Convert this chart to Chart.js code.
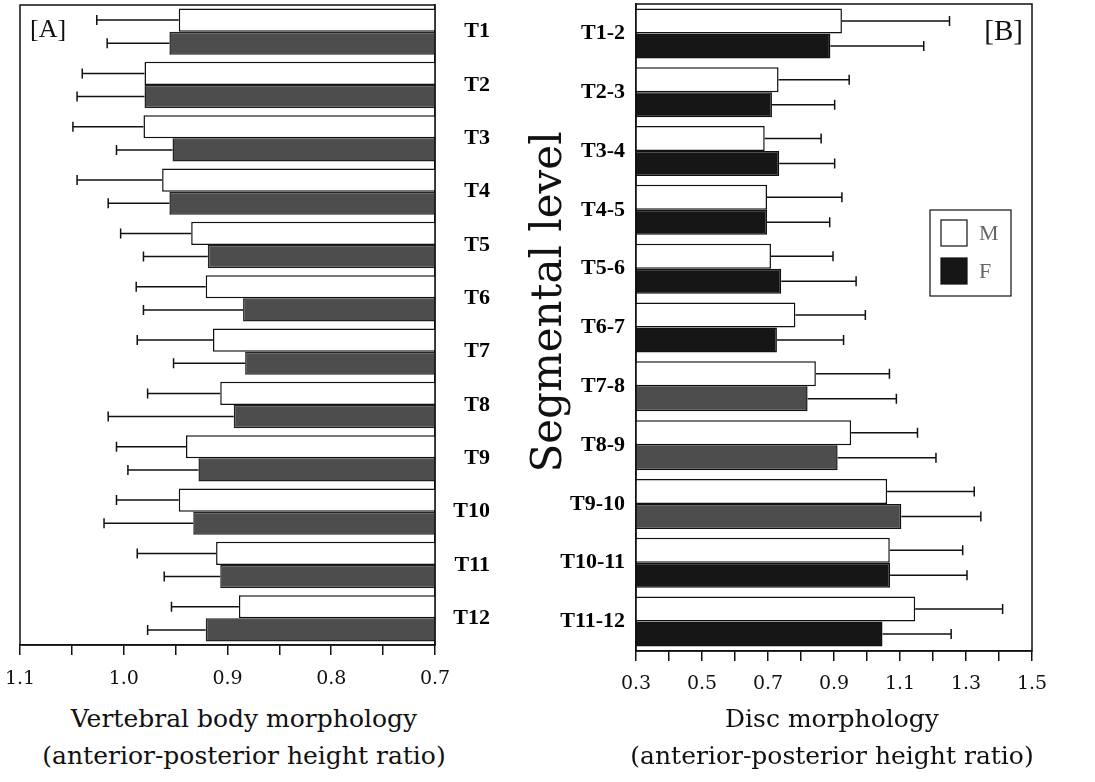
<!DOCTYPE html>
<html>
<head>
<meta charset="utf-8">
<script src="https://cdn.jsdelivr.net/npm/chart.js@4.4.1/dist/chart.umd.min.js"></script>
<style>
  html, body { margin: 0; padding: 0; background: #fff; }
  #wrap { position: relative; width: 1095px; height: 782px; overflow: hidden; background: #fff; }
  canvas { position: absolute; top: 0; }
  #chartA { left: 0; }
  #chartB { left: 530px; }
  .xtitle {
    position: absolute; width: 500px; text-align: center;
    font-family: 'DejaVu Serif', serif; font-size: 25px; line-height: 37px; color: #111;
  }
  #ytitle {
    position: absolute; width: 400px; height: 50px; left: 347px; top: 277px;
    text-align: center; line-height: 50px;
    font-family: 'DejaVu Serif', serif; font-size: 42px; color: #111;
    transform: rotate(-90deg);
  }
</style>
</head>
<body>
<div id="wrap">
  <canvas id="chartA" width="540" height="700"></canvas>
  <canvas id="chartB" width="565" height="700"></canvas>
  <div class="xtitle" style="left:-6px; top:700px;">Vertebral body morphology<br>(anterior-posterior height ratio)</div>
  <div class="xtitle" style="left:582px; top:700px;">Disc morphology<br>(anterior-posterior height ratio)</div>
  <div id="ytitle">Segmental level</div>
</div>
<script>
// panel A: vertebral body ratio, mean and SD per level
const vertebraLevels = ['T1', 'T2', 'T3', 'T4', 'T5', 'T6', 'T7', 'T8', 'T9', 'T10', 'T11', 'T12'];
const vbMale = [0.947, 0.980, 0.981, 0.963, 0.935, 0.921, 0.914, 0.907, 0.940, 0.947, 0.911, 0.889];
const vbMaleSD = [0.079, 0.060, 0.068, 0.082, 0.068, 0.067, 0.073, 0.070, 0.067, 0.060, 0.076, 0.065];
const vbFemale = [0.956, 0.980, 0.953, 0.956, 0.919, 0.885, 0.883, 0.894, 0.928, 0.933, 0.907, 0.921];
const vbFemaleSD = [0.060, 0.065, 0.054, 0.059, 0.062, 0.096, 0.069, 0.121, 0.068, 0.086, 0.054, 0.056];
const vbTickValues = [0.7, 0.75, 0.8, 0.85, 0.9, 0.95, 1.0, 1.05, 1.1];
const vbTickLabels = ['0.7', '', '0.8', '', '0.9', '', '1.0', '', '1.1'];

// panel B: disc ratio
const discLevels = ['T1-2', 'T2-3', 'T3-4', 'T4-5', 'T5-6', 'T6-7', 'T7-8', 'T8-9', 'T9-10', 'T10-11', 'T11-12'];
const discMale = [0.924, 0.732, 0.690, 0.697, 0.709, 0.783, 0.845, 0.952, 1.061, 1.069, 1.146];
const discMaleSD = [0.326, 0.214, 0.171, 0.227, 0.188, 0.212, 0.223, 0.201, 0.264, 0.221, 0.265];
const discFemale = [0.889, 0.712, 0.734, 0.697, 0.740, 0.727, 0.820, 0.911, 1.104, 1.070, 1.047];
const discFemaleSD = [0.283, 0.190, 0.168, 0.190, 0.227, 0.202, 0.269, 0.298, 0.241, 0.233, 0.208];
const discTickValues = [0.3, 0.4, 0.5, 0.6, 0.7, 0.8, 0.9, 1.0, 1.1, 1.2, 1.3, 1.4, 1.5];
const discTickLabels = ['0.3', '', '0.5', '', '0.7', '', '0.9', '', '1.1', '', '1.3', '', '1.5'];

const INK = '#111';
const GRAY = '#4d4d4d';
const BLACK = '#161616';
const grayDiscBars = [6, 7, 8]; // T7-8 .. T9-10 printed gray

// SD whiskers, one side only (away from the base)
const errorBarPlugin = {
  id: 'errorBars',
  afterDatasetsDraw(chart) {
    const ctx = chart.ctx;
    const xs = chart.scales.x;
    ctx.save();
    ctx.strokeStyle = INK;
    ctx.lineWidth = 1.5;
    chart.data.datasets.forEach((ds, i) => {
      const meta = chart.getDatasetMeta(i);
      meta.data.forEach((bar, j) => {
        const end = xs.getPixelForValue(ds.data[j] + ds.errorBars[j]);
        ctx.beginPath();
        ctx.moveTo(bar.x, bar.y);
        ctx.lineTo(end, bar.y);
        ctx.moveTo(end, bar.y - 5);
        ctx.lineTo(end, bar.y + 5);
        ctx.stroke();
      });
    });
    ctx.restore();
  }
};

// frame round the plot, panel tag and (panel B) the key
const framePlugin = {
  id: 'frame',
  afterDraw(chart, args, opts) {
    const ctx = chart.ctx;
    const a = chart.chartArea;
    ctx.save();
    ctx.strokeStyle = INK;
    ctx.lineWidth = 1.5;
    ctx.strokeRect(a.left, a.top, a.right - a.left, a.bottom - a.top);

    ctx.fillStyle = INK;
    ctx.textBaseline = 'top';
    ctx.font = opts.tagSize + 'px "Liberation Serif"';
    if (opts.tagSide === 'left') {
      ctx.textAlign = 'left';
      ctx.fillText(opts.tag, a.left + 10, a.top + 12);
    } else {
      ctx.textAlign = 'right';
      ctx.fillText(opts.tag, a.right - 9, a.top + 14);
    }

    if (opts.key) {
      const bx = a.right - 102, by = 210;
      ctx.lineWidth = 1.2;
      ctx.strokeRect(bx, by, 81, 86);
      chart.data.datasets.forEach((ds, i) => {
        const sy = by + 10 + i * 38;
        ctx.fillStyle = i === 0 ? '#fff' : BLACK;
        ctx.fillRect(bx + 11, sy, 26, 26);
        ctx.strokeRect(bx + 11, sy, 26, 26);
        ctx.fillStyle = '#666';
        ctx.textAlign = 'left';
        ctx.textBaseline = 'middle';
        ctx.font = '22px "Liberation Serif"';
        ctx.fillText(ds.label, bx + 49, sy + 14);
      });
    }
    ctx.restore();
  }
};

function xAxis(min, max, reverse, tickValues, tickLabels, height, pad) {
  return {
    type: 'linear', min: min, max: max, reverse: reverse,
    afterBuildTicks: s => { s.ticks = tickValues.map(v => ({ value: v })); },
    afterFit: s => { s.height = height; },
    grid: { drawOnChartArea: false, drawTicks: true, tickLength: 10, color: INK, lineWidth: 1.5 },
    border: { display: true, color: INK, width: 1.5 },
    ticks: {
      autoSkip: false, maxRotation: 0, padding: pad, color: INK,
      font: { family: 'DejaVu Serif', size: 19 },
      callback: (v, i) => tickLabels[i]
    }
  };
}

function catAxis(position, width, padding, crossAlign) {
  return {
    position: position,
    afterFit: s => { s.width = width; s.paddingTop = 0; s.paddingBottom = 0; },
    grid: { display: false, drawTicks: false },
    border: { display: true, color: INK, width: 1.5 },
    ticks: { crossAlign: crossAlign, padding: padding, color: '#000', font: { family: 'Liberation Serif', size: 22, weight: 'bold' } }
  };
}

new Chart(document.getElementById('chartA'), {
  type: 'bar',
  data: {
    labels: vertebraLevels,
    datasets: [
      { label: 'M', data: vbMale, errorBars: vbMaleSD, backgroundColor: '#fff', borderColor: INK, borderWidth: 1.5 },
      { label: 'F', data: vbFemale, errorBars: vbFemaleSD, backgroundColor: GRAY, borderColor: '#222', borderWidth: 1.5 }
    ]
  },
  options: {
    indexAxis: 'y',
    responsive: false,
    animation: false,
    devicePixelRatio: 1,
    layout: { padding: { left: 20, right: 50, top: 5, bottom: 0 } },
    datasets: { bar: { categoryPercentage: 0.87, barPercentage: 1.0 } },
    plugins: {
      legend: { display: false },
      tooltip: { enabled: false },
      frame: { tag: '[A]', tagSide: 'left', tagSize: 26, key: false }
    },
    scales: {
      x: xAxis(0.7, 1.1, true, vbTickValues, vbTickLabels, 55, 13),
      y: catAxis('right', 55, 0, 'far')
    }
  },
  plugins: [errorBarPlugin, framePlugin]
});

new Chart(document.getElementById('chartB'), {
  type: 'bar',
  data: {
    labels: discLevels,
    datasets: [
      { label: 'M', data: discMale, errorBars: discMaleSD, backgroundColor: '#fff', borderColor: INK, borderWidth: 1.5 },
      {
        label: 'F', data: discFemale, errorBars: discFemaleSD,
        backgroundColor: c => grayDiscBars.includes(c.dataIndex) ? GRAY : BLACK,
        borderColor: '#111', borderWidth: 1.5
      }
    ]
  },
  options: {
    indexAxis: 'y',
    responsive: false,
    animation: false,
    devicePixelRatio: 1,
    layout: { padding: { left: 0, right: 63, top: 4, bottom: 0 } },
    datasets: { bar: { categoryPercentage: 0.85, barPercentage: 1.0 } },
    plugins: {
      legend: { display: false },
      tooltip: { enabled: false },
      frame: { tag: '[B]', tagSide: 'right', tagSize: 29, key: true }
    },
    scales: {
      x: xAxis(0.3, 1.5, false, discTickValues, discTickLabels, 49, 12),
      y: catAxis('left', 106, 11, 'near')
    }
  },
  plugins: [errorBarPlugin, framePlugin]
});
</script>
</body>
</html>
